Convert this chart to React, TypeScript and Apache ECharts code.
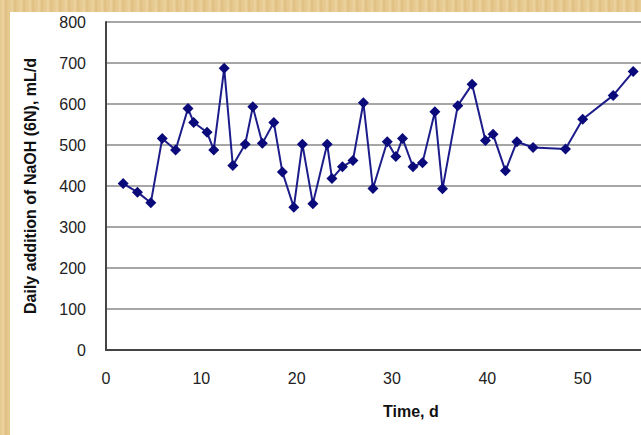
import React, { useEffect, useRef } from "react";
import * as echarts from "echarts";

const days = [1.8, 3.3, 4.7, 5.9, 7.3, 8.6, 9.2, 10.6, 11.3, 12.4, 13.3, 14.6, 15.4, 16.4, 17.6, 18.5, 19.7, 20.6, 21.7, 23.2, 23.7, 24.8, 25.9, 27.0, 28.0, 29.5, 30.4, 31.1, 32.2, 33.2, 34.5, 35.3, 36.9, 38.4, 39.8, 40.6, 41.9, 43.1, 44.8, 48.2, 50.0, 53.2, 55.3];
const naoh = [406, 385, 359, 516, 488, 589, 555, 531, 488, 687, 450, 502, 593, 504, 555, 434, 348, 502, 357, 502, 418, 447, 462, 603, 394, 508, 472, 516, 447, 457, 581, 393, 596, 648, 511, 526, 437, 508, 494, 490, 563, 621, 679];

const yTitle = "Daily addition of NaOH (6N), mL/d";
const xTitle = "Time, d";

export default function App() {
  const ref = useRef<HTMLDivElement>(null);
  useEffect(() => {
    if (!ref.current) return;
    const chart = echarts.init(ref.current, null, { renderer: "svg" });
    const font = "'Liberation Sans', Arial, sans-serif";
    chart.setOption({
      animation: false,
      backgroundColor: "transparent",
      grid: { left: 106, top: 22, bottom: 85, right: 42, containLabel: false },
      xAxis: {
        type: "value",
        min: 0,
        max: 60,
        interval: 10,
        axisLine: { show: true, lineStyle: { color: "#444", width: 2 } },
        axisTick: { show: false },
        splitLine: { show: false },
        axisLabel: { color: "#222", fontSize: 16, fontFamily: font, margin: 20, showMaxLabel: false },
      },
      yAxis: {
        type: "value",
        min: 0,
        max: 800,
        interval: 100,
        name: yTitle,
        nameLocation: "middle",
        nameGap: 68,
        nameTextStyle: { color: "#111", fontSize: 16, fontWeight: "bold", fontFamily: font },
        axisLine: { show: true, lineStyle: { color: "#444", width: 2 } },
        axisTick: { show: false },
        splitLine: { show: true, lineStyle: { color: "#888", width: 1.5 } },
        axisLabel: { color: "#222", fontSize: 16, fontFamily: font, margin: 20 },
      },
      graphic: [
        {
          type: "text",
          left: 415 - 32,
          top: 403,
          style: { text: xTitle, fill: "#111", font: `bold 16px ${font}` },
        },
      ],
      series: [
        {
          type: "line",
          data: days.map((d, i) => [d, naoh[i]]),
          symbol: "diamond",
          symbolSize: 11,
          itemStyle: { color: "#0a0a7a" },
          lineStyle: { color: "#1c1c8a", width: 2 },
        },
      ],
    });
    return () => chart.dispose();
  }, []);
  return (
    <div
      style={{
        position: "absolute",
        left: 0,
        top: 0,
        width: 641,
        height: 435,
        overflow: "hidden",
        background:
          "repeating-linear-gradient(90deg, #e4c68b 0px, #ecd39f 3px, #dfbf80 6px, #e8cc94 9px)",
      }}
    >
      <div
        style={{
          position: "absolute",
          left: 10,
          top: 12,
          width: 640,
          height: 430,
          background: "#ffffff",
        }}
      />
      <div ref={ref} style={{ position: "absolute", left: 0, top: 0, width: 720, height: 435 }} />
    </div>
  );
}
